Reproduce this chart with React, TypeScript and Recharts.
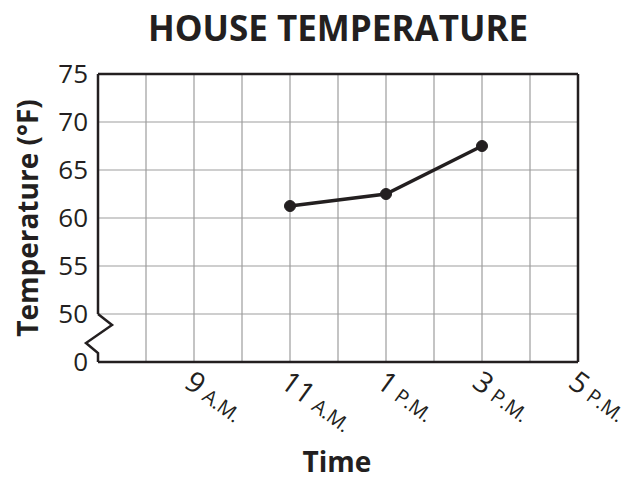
import React from 'react';
import { LineChart, Line, XAxis, YAxis, CartesianGrid, ReferenceLine } from 'recharts';

const hours = [11, 13, 15];
const temperatures = [61.25, 62.5, 67.5];

const xTickValues = [9, 11, 13, 15, 17];
const xTickNumbers = ['9', '11', '1', '3', '5'];
const xTickSuffixes = ['A.M.', 'A.M.', 'P.M.', 'P.M.', 'P.M.'];
const xGridHours = [8, 9, 10, 11, 12, 13, 14, 15, 16, 17];

const yTickLabels = ['0', '50', '55', '60', '65', '70', '75'];
const yTickPositions = [0, 1, 2, 3, 4, 5, 6];

const W = 633;
const H = 481;
const PLOT_LEFT = 98;
const PLOT_TOP = 74;
const PLOT_RIGHT = 578;
const PLOT_BOTTOM = 362;
const INK = '#231f20';
const FONT = '"Open Sans", "Noto Sans", sans-serif';

// broken axis: 0 at the bottom, then 50..75 in steps of 5
const toPos = (v: number) => (v >= 50 ? (v - 50) / 5 + 1 : v / 50);

const data = hours.map((h, i) => ({ hour: h, pos: toPos(temperatures[i]) }));

const XTick = (props: any) => {
  const { x, payload } = props;
  const idx = xTickValues.indexOf(payload.value);
  if (idx < 0) return null;
  return (
    <g transform={`translate(${x},${PLOT_BOTTOM}) rotate(36)`}>
      <text x={5} y={26} fill={INK} fontFamily={FONT} textAnchor="start">
        <tspan style={{ fontSize: 29 }}>{xTickNumbers[idx]}</tspan>
        <tspan style={{ fontSize: 20 }} dx={6}>{xTickSuffixes[idx]}</tspan>
      </text>
    </g>
  );
};

const YTick = (props: any) => {
  const { y, payload } = props;
  const idx = yTickPositions.indexOf(payload.value);
  const label = yTickLabels[idx];
  const u = (PLOT_BOTTOM - PLOT_TOP) / 6;
  return (
    <g>
      <text x={PLOT_LEFT - 10} y={y + 9} fill={INK} fontFamily={FONT} fontSize={26} textAnchor="end">
        {label}
      </text>
      {payload.value === 0 && (
        <path
          d={`M${PLOT_LEFT},${y - u} L${PLOT_LEFT + 14},${y - u + 11} L${PLOT_LEFT - 12},${y - u + 29} L${PLOT_LEFT},${y - u + 39} L${PLOT_LEFT},${y}`}
          fill="none"
          stroke={INK}
          strokeWidth={2.5}
          strokeLinejoin="miter"
        />
      )}
    </g>
  );
};

export default function App() {
  return (
    <div style={{ position: 'absolute', left: 0, top: 0, width: W, height: H, background: '#fff' }}>
      <LineChart
        width={W}
        height={H}
        data={data}
        margin={{ top: PLOT_TOP, right: W - PLOT_RIGHT, bottom: 0, left: 0 }}
      >
        <CartesianGrid stroke="#9d9d9d" strokeWidth={1.2} verticalValues={xGridHours} horizontalValues={yTickPositions} />
        <XAxis
          dataKey="hour"
          type="number"
          domain={[7, 17]}
          ticks={xGridHours}
          interval={0}
          height={H - PLOT_BOTTOM}
          axisLine={{ stroke: INK, strokeWidth: 2.5 }}
          tickLine={false}
          tick={<XTick />}
        />
        <YAxis
          type="number"
          domain={[0, 6]}
          ticks={yTickPositions}
          interval={0}
          width={PLOT_LEFT}
          axisLine={false}
          tickLine={false}
          tick={<YTick />}
        />
        <ReferenceLine y={6} stroke={INK} strokeWidth={2.5} />
        <ReferenceLine x={17} stroke={INK} strokeWidth={2.5} />
        <ReferenceLine segment={[{ x: 7, y: 1 }, { x: 7, y: 6 }]} stroke={INK} strokeWidth={2.5} />
        <Line
          dataKey="pos"
          stroke={INK}
          strokeWidth={3.5}
          dot={{ r: 5.5, fill: INK, stroke: INK, strokeWidth: 1 }}
          isAnimationActive={false}
        />
      </LineChart>
      <div
        style={{
          position: 'absolute',
          left: 338,
          top: 8,
          transform: 'translateX(-50%)',
          whiteSpace: 'nowrap',
          fontFamily: FONT,
          fontWeight: 700,
          fontSize: 35,
          lineHeight: '40px',
          color: INK,
        }}
      >
        HOUSE TEMPERATURE
      </div>
      <div
        style={{
          position: 'absolute',
          left: 27,
          top: 218,
          transform: 'translate(-50%, -50%) rotate(-90deg)',
          whiteSpace: 'nowrap',
          fontFamily: FONT,
          fontWeight: 700,
          fontSize: 28,
          lineHeight: '32px',
          color: INK,
        }}
      >
        Temperature (°F)
      </div>
      <div
        style={{
          position: 'absolute',
          left: 337,
          top: 446,
          transform: 'translateX(-50%)',
          whiteSpace: 'nowrap',
          fontFamily: FONT,
          fontWeight: 700,
          fontSize: 28,
          lineHeight: '30px',
          color: INK,
        }}
      >
        Time
      </div>
    </div>
  );
}
